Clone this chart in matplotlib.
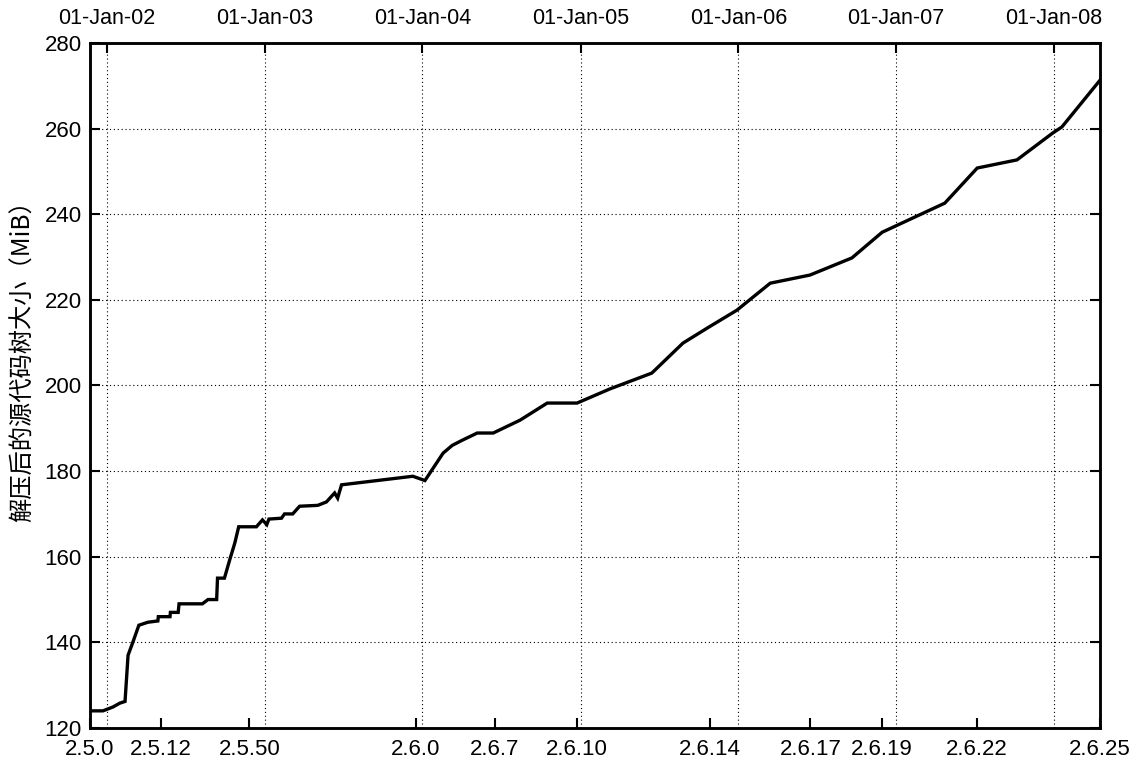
import numpy as np
import pandas as pd
import matplotlib
matplotlib.use("Agg")
import matplotlib.pyplot as plt
import matplotlib.dates as mdates

# source tree size (MiB)
dates = ["2001-11-23", "2001-12-23", "2002-01-15", "2002-01-31", "2002-02-12",
         "2002-02-19", "2002-03-02", "2002-03-16", "2002-04-06", "2002-04-29",
         "2002-04-30", "2002-05-27", "2002-05-28", "2002-06-15", "2002-06-17",
         "2002-08-10", "2002-08-23", "2002-09-12", "2002-09-14", "2002-09-30",
         "2002-10-12", "2002-10-24", "2002-11-02", "2002-12-13", "2002-12-27",
         "2003-01-06", "2003-01-11", "2003-02-09", "2003-02-16", "2003-03-07",
         "2003-03-23", "2003-05-04", "2003-05-24", "2003-06-12", "2003-06-19",
         "2003-06-28", "2003-12-10", "2004-01-07", "2004-02-18", "2004-03-10",
         "2004-04-02", "2004-05-07", "2004-06-13", "2004-08-14", "2004-10-16",
         "2004-12-24", "2005-03-10", "2005-06-15", "2005-08-26", "2005-10-21",
         "2005-12-29", "2006-03-16", "2006-06-16", "2006-09-21", "2006-11-30",
         "2007-04-24", "2007-07-08", "2007-10-08", "2007-12-30", "2008-01-20",
         "2008-04-17"]
size_mib = [124.0, 124.0, 124.9, 125.8, 126.2,
            137.0, 140.0, 144.0, 144.7, 145.0,
            146.0, 146.0, 147.0, 147.0, 149.0,
            149.0, 150.0, 150.0, 155.0, 155.0,
            159.2, 163.2, 167.0, 167.0, 168.6,
            167.5, 168.8, 169.0, 170.0, 170.0,
            171.8, 172.0, 172.8, 174.9, 173.7,
            176.8, 178.8, 177.8, 184.2, 186.0,
            187.2, 188.9, 188.9, 191.9, 195.9,
            195.9, 199.2, 202.9, 209.9, 213.4,
            217.6, 223.9, 225.8, 229.8, 235.8,
            242.6, 250.8, 252.7, 259.0, 260.4,
            271.3]

versions = ["2.5.0", "2.5.12", "2.5.50", "2.6.0", "2.6.7", "2.6.10",
            "2.6.14", "2.6.17", "2.6.19", "2.6.22", "2.6.25"]
version_dates = ["2001-11-23", "2002-05-06", "2002-11-27", "2003-12-17",
                 "2004-06-16", "2004-12-24", "2005-10-27", "2006-06-17",
                 "2006-11-29", "2007-07-08", "2008-04-17"]
year_marks = ["2002-01-01", "2003-01-01", "2004-01-01", "2005-01-01",
              "2006-01-01", "2007-01-01", "2008-01-01"]
yticks = [120, 140, 160, 180, 200, 220, 240, 260, 280]

plt.rcParams['font.family'] = ['Liberation Sans', 'DejaVu Sans']


def main():
    x = mdates.date2num(pd.to_datetime(dates))
    vx = mdates.date2num(pd.to_datetime(version_dates))
    yx = mdates.date2num(pd.to_datetime(year_marks))

    fig = plt.figure(figsize=(11.44, 7.78), dpi=100)
    ax = fig.add_axes([0.0787, 0.0643, 0.8828, 0.8804])
    ax2 = ax.twiny()

    ax.plot(x, size_mib, color='black', lw=2.4, solid_joinstyle='miter')
    ax.set_xlim(vx[0], vx[-1])
    ax.set_ylim(120, 280)
    ax.set_yticks(yticks)
    ax.set_xticks(vx)
    ax.set_xticklabels(versions)
    ax.yaxis.grid(True, linestyle=(0, (1, 2.5)), color='black', lw=0.8)
    ax.tick_params(axis='both', direction='in', length=7, width=1.5,
                   colors='black')
    ax.tick_params(axis='y', right=True, pad=6, labelsize=16)
    ax.tick_params(axis='x', pad=8, labelsize=16)

    ax2.set_xlim(ax.get_xlim())
    ax2.set_xticks(yx)
    ax2.xaxis.set_major_formatter(mdates.DateFormatter('%d-%b-%y'))
    ax2.xaxis.grid(True, linestyle=(0, (1, 2.5)), color='black', lw=0.8)
    ax2.tick_params(axis='x', direction='in', length=7, width=1.5,
                    labelsize=15.5, pad=10)

    for a in (ax, ax2):
        for s in a.spines.values():
            s.set_linewidth(1.8)
            s.set_color('black')

    # keep the curve above the date grid
    ax.set_zorder(ax2.get_zorder() + 1)
    ax.patch.set_visible(False)

    ax.set_ylabel("解压后的源代码树大小（MiB）", fontsize=17.5,
                  family=['Noto Sans CJK SC', 'DejaVu Sans'])
    ax.yaxis.set_label_coords(-0.054, 0.545)

    fig.savefig("out.png", dpi=100)


if __name__ == '__main__':
    main()
